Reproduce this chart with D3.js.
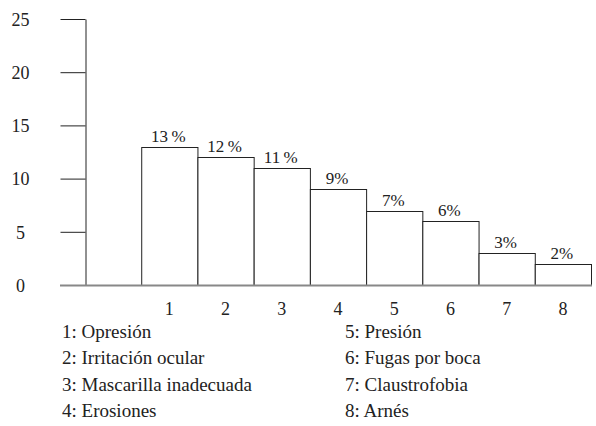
<!DOCTYPE html>
<html>
<head>
<meta charset="utf-8">
<script src="https://cdn.jsdelivr.net/npm/d3@7"></script>
<style>
  body { margin: 0; background: #fff; }
  svg text { font-family: "Liberation Serif", "Times New Roman", serif !important; fill: #222; }
</style>
</head>
<body>
<svg id="chart" width="596" height="426"></svg>
<script>
const codes = ["1", "2", "3", "4", "5", "6", "7", "8"];
const values = [13, 12, 11, 9, 7, 6, 3, 2];
const pctLabels = ["13\u2009%", "12\u2009%", "11\u2009%", "9%", "7%", "6%", "3%", "2%"];
const yTicks = [0, 5, 10, 15, 20, 25];
const legendLeft = ["1: Opresión", "2: Irritación ocular", "3: Mascarilla inadecuada", "4: Erosiones"];
const legendRight = ["5: Presión", "6: Fugas por boca", "7: Claustrofobia", "8: Arnés"];

const svg = d3.select("#chart");
const x0 = 85, x1 = 591, yBottom = 285, yTop = 19;
const fs = 18;

// one empty slot before the first bar
const x = d3.scaleBand()
  .domain(["", ...codes])
  .range([x0, x1])
  .padding(0);

const y = d3.scaleLinear()
  .domain([0, 25])
  .range([yBottom, yTop]);

// bars
svg.selectAll(".bar")
  .data(values)
  .enter()
  .append("rect")
  .attr("class", "bar")
  .attr("x", (d, i) => x(codes[i]) + 0.5)
  .attr("y", d => Math.round(y(d)) + 0.5)
  .attr("width", x.bandwidth())
  .attr("height", d => yBottom - Math.round(y(d)))
  .attr("fill", "#fff")
  .attr("stroke", "#222")
  .attr("stroke-width", 1);

// value labels
svg.selectAll(".val")
  .data(values)
  .enter()
  .append("text")
  .attr("x", (d, i) => x(codes[i]) + x.bandwidth() / 2 - 1)
  .attr("y", d => y(d) - 5)
  .attr("text-anchor", "middle")
  .attr("font-size", 17)
  .text((d, i) => pctLabels[i]);

// y axis
const yAxis = svg.append("g")
  .attr("transform", `translate(${x0 + 0.5},0)`)
  .call(d3.axisLeft(y).tickValues(yTicks).tickSize(25).tickSizeOuter(0));
yAxis.select(".domain").attr("stroke", "#222");
yAxis.selectAll(".tick line").attr("stroke", "#222");
yAxis.selectAll(".tick text")
  .attr("x", 20 - x0)
  .attr("dy", "0.35em")
  .attr("text-anchor", "middle")
  .attr("font-size", fs);

// x axis line
svg.append("line")
  .attr("x1", 60).attr("x2", x1 + 1)
  .attr("y1", yBottom + 0.5).attr("y2", yBottom + 0.5)
  .attr("stroke", "#888")
  .attr("stroke-width", 2);

// category labels
svg.selectAll(".cat")
  .data(codes)
  .enter()
  .append("text")
  .attr("x", d => x(d) + x.bandwidth() / 2)
  .attr("y", 315)
  .attr("text-anchor", "middle")
  .attr("font-size", fs)
  .text(d => d);

// legend
const rowY = [338, 364, 391, 417];
svg.selectAll(".legL")
  .data(legendLeft)
  .enter()
  .append("text")
  .attr("x", 62)
  .attr("y", (d, i) => rowY[i])
  .attr("font-size", 19)
  .text(d => d);

svg.selectAll(".legR")
  .data(legendRight)
  .enter()
  .append("text")
  .attr("x", 345)
  .attr("y", (d, i) => rowY[i])
  .attr("font-size", 19)
  .text(d => d);
</script>
</body>
</html>
